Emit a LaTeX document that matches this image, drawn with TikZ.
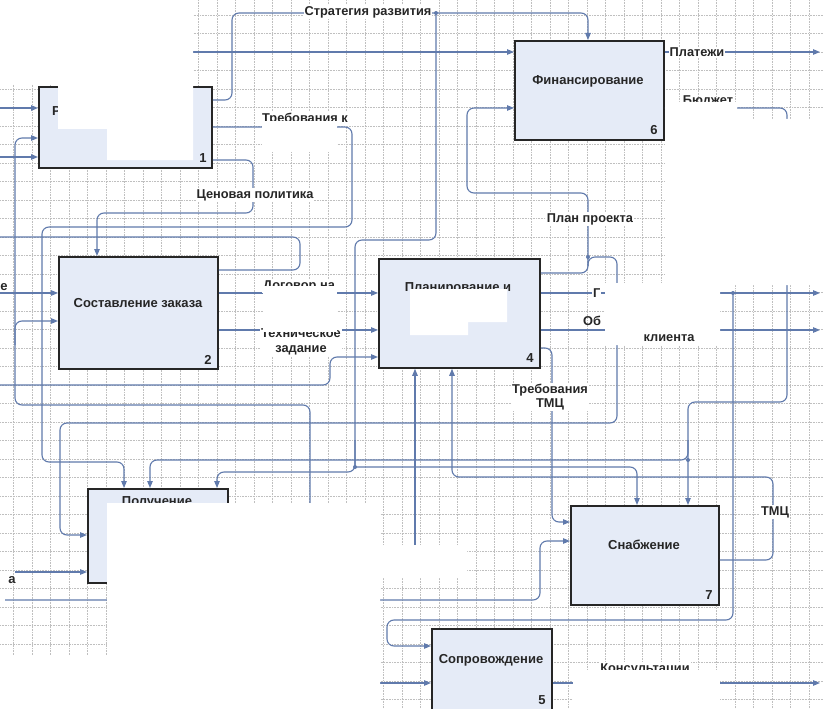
\documentclass[tikz,border=0pt]{standalone}
\usepackage{fontspec}
\setmainfont{Liberation Sans}
\usetikzlibrary{arrows.meta}
\definecolor{lc}{RGB}{96,122,172}
\definecolor{bf}{RGB}{229,235,247}
\begin{document}
\begin{tikzpicture}[x=1pt,y=-1pt,
  gridln/.style={black!25, densely dotted, line width=0.6pt},
  ln/.style={draw=lc, line width=1.1pt, rounded corners=7pt},
  arr/.style={ln, -{Triangle[length=7pt,width=5.5pt]}},
  box/.style={draw=black!85, line width=1.8pt, fill=bf, anchor=north west, inner sep=0pt},
  lbl/.style={font=\fontsize{12.8}{14.5}\selectfont\bfseries, fill=white, inner sep=1pt, align=center, text=black!85},
  ttl/.style={font=\fontsize{13}{15}\selectfont\bfseries, inner sep=1pt, text=black!85},
  jdot/.style={circle, fill=lc, inner sep=0pt, minimum size=4pt},
  occ/.style={fill=white, draw=none}]
\clip (0,0) rectangle (823,709);
\fill[white] (0,0) rectangle (823,709);
% grid
\foreach \i in {0,...,44} \draw[gridln] ({13.3+18.5*\i},0) -- ({13.3+18.5*\i},709);
\foreach \j in {0,...,38} \draw[gridln] (0,{15+18.5*\j}) -- (823,{15+18.5*\j});

% boxes
\node[box, minimum width=173pt, minimum height=81pt] (b1) at (38,86) {};
\node[box, minimum width=159pt, minimum height=112pt] (b2) at (58,256) {};
\node[box, minimum width=140pt, minimum height=94pt] (b3) at (87,488) {};
\node[box, minimum width=161pt, minimum height=109pt] (b4) at (378,258) {};
\node[box, minimum width=120pt, minimum height=100pt] (b5) at (431,628) {};
\node[box, minimum width=149pt, minimum height=99pt] (b6) at (514,40) {};
\node[box, minimum width=148pt, minimum height=99pt] (b7) at (570,505) {};

% connectors
\draw[arr] (190,52) -- (b6.west |- 0,52);
\draw[arr] (b1.east |- 0,100) -- (232,100) -- (232,13) -- (588,13) -- (b6.north -| 588,0);
\draw[ln] (436,13) -- (436,240) -- (355,240) -- (355,467);
\draw[arr] (355,440) -- (355,472) -- (217,472) -- (b3.north -| 217,0);
\draw[arr] (355,467) -- (637,467) -- (b7.north -| 637,0);

\draw[arr] (b6.east |- 0,52) -- (820,52);
\draw[arr] (b6.east |- 0,108) -- (787,108) -- (787,402) -- (688,402) -- (b7.north -| 688,0);
\draw[arr] (688,440) -- (688,460) -- (150,460) -- (b3.north -| 150,0);

\draw[arr] (b4.east |- 0,273) -- (588,273) -- (588,193) -- (467,193) -- (467,108) -- (b6.west |- 0,108);
\draw[arr] (588,266) -- (588,257) -- (617,257) -- (617,423) -- (60,423) -- (60,535) -- (b3.west |- 0,535);

\draw[arr] (b4.east |- 0,293) -- (820,293);
\draw[arr] (733,293) -- (733,620) -- (387,620) -- (387,646) -- (b5.west |- 0,646);
\draw[arr] (b4.east |- 0,330) -- (820,330);
\draw[arr] (b4.east |- 0,348) -- (552,348) -- (552,522) -- (b7.west |- 0,522);
\draw[arr] (b7.east |- 0,560) -- (773,560) -- (773,477) -- (452,477) -- (b4.south -| 452,0);
\draw[arr] (415,545) -- (b4.south -| 415,0);
\draw[arr] (0,385) -- (330,385) -- (330,357) -- (b4.west |- 0,357);

\draw[arr] (b2.east |- 0,293) -- (b4.west |- 0,293);
\draw[arr] (b2.east |- 0,330) -- (b4.west |- 0,330);
\draw[arr] (b1.east |- 0,160) -- (253,160) -- (253,213) -- (97,213) -- (b2.north -| 97,0);
\draw[arr] (b1.east |- 0,127) -- (352,127) -- (352,227) -- (42,227) -- (42,462) -- (124,462) -- (b3.north -| 124,0);
\draw[ln] (b2.east |- 0,270) -- (300,270) -- (300,237) -- (0,237);
\draw[arr] (0,108) -- (b1.west |- 0,108);
\draw[arr] (0,157) -- (b1.west |- 0,157);
\draw[arr] (310,520) -- (310,405) -- (15,405) -- (15,138) -- (b1.west |- 0,138);
\draw[arr] (15,345) -- (15,321) -- (b2.west |- 0,321);
\draw[arr] (0,293) -- (b2.west |- 0,293);
\draw[arr] (15,572) -- (b3.west |- 0,572);
\draw[arr] (5,600) -- (540,600) -- (540,541) -- (b7.west |- 0,541);
\draw[arr] (300,683) -- (b5.west |- 0,683);
\draw[arr] (b5.east |- 0,683) -- (820,683);

% junctions
\node[jdot] (j1) at (436,13) {};
\node[jdot] (j2) at (355,467) {};
\node[jdot] (j3) at (588,257) {};
\node[jdot] (j4) at (688,460) {};
\node[jdot] (j5) at (733,293) {};

% box titles and numbers
\node[ttl] (t6) at (588,81) {Финансирование};
\node[ttl] (t2) at (138,303) {Составление заказа};
\node[ttl] (t7) at (644,545) {Снабжение};
\node[ttl] (t5) at (491,660) {Сопровождение};
\node[ttl] (t3) at (157,502) {Получение};
\node[ttl] (t4) at (458,288) {Планирование и};
\node[ttl, anchor=west] (t1) at (51,111) {Р};
\node[ttl] (n1) at (203,158) {1};
\node[ttl] (n2) at (208,360) {2};
\node[ttl] (n4) at (530,358) {4};
\node[ttl] (n6) at (654,130) {6};
\node[ttl] (n7) at (709,595) {7};
\node[ttl] (n5) at (542,700) {5};

% labels
\node[lbl] (l1) at (368,12) {Стратегия развития};
\node[lbl] (l2) at (697,52) {Платежи};
\node[lbl, fill=none] (l3) at (708,101) {Бюджет};
\node[lbl] (l4) at (590,219) {План проекта};
\node[lbl, anchor=west] (l5) at (592,293) {Г};
\node[lbl, anchor=west, fill=none] (l6) at (582,321) {Об};
\node[lbl] (l7) at (550,397) {Требования\\ТМЦ};
\node[lbl] (l8) at (775,512) {ТМЦ};
\node[lbl] (l9) at (299,286) {Договор на};
\node[lbl] (l10) at (301,342) {Техническое\\задание};
\node[lbl] (l11) at (255,195) {Ценовая политика};
\node[lbl] (l12) at (305,119) {Требования к};
\node[lbl] (l13) at (645,669) {Консультации};
\node[ttl] (f1) at (4,287) {е};
\node[ttl] (f2) at (12,580) {а};

% occluded areas
\fill[occ] (0,0) -- (193,0) -- (193,160) -- (107,160) -- (107,129) -- (58,129) -- (58,84) -- (0,84) -- cycle;
\fill[occ] (665,102) -- (737,102) -- (737,119) -- (823,119) -- (823,285) -- (720,285) -- (720,345) -- (605,345) -- (605,283) -- (665,283) -- cycle;
\fill[occ] (410,289) -- (507,289) -- (507,322) -- (468,322) -- (468,335) -- (410,335) -- cycle;
\fill[occ] (263,286) rectangle (337,332);
\fill[occ] (262,121) rectangle (337,152);
\fill[occ] (107,503) -- (380,503) -- (380,545) -- (467,545) -- (467,578) -- (380,578) -- (380,709) -- (0,709) -- (0,655) -- (107,655) -- cycle;
\fill[occ] (573,670) rectangle (720,709);
\node[lbl] (l14) at (669,338) {клиента};
\end{tikzpicture}
\end{document}
